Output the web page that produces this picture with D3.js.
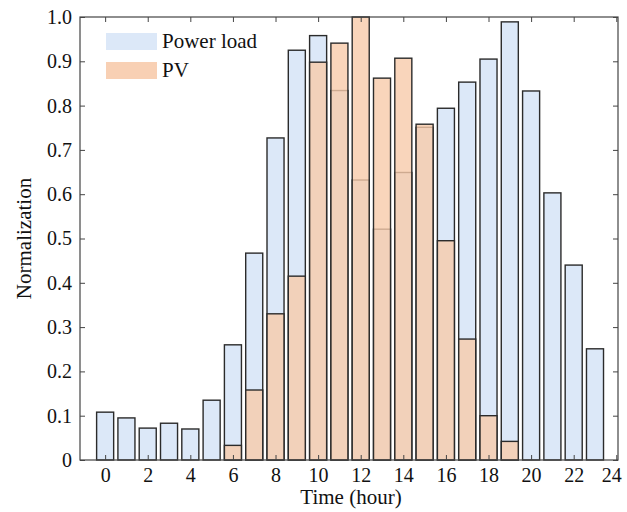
<!DOCTYPE html>
<html>
<head>
<meta charset="utf-8">
<script src="https://cdn.jsdelivr.net/npm/d3@7"></script>
<style>
  body { margin: 0; background: #fff; }
  svg text { font-family: "Liberation Serif", "Times New Roman", serif; }
</style>
</head>
<body>
<div id="chart"></div>
<script>
// hours 0..23
const hours = d3.range(0, 24)
const powerLoad = [0.108, 0.095, 0.072, 0.083, 0.070, 0.135, 0.260, 0.467, 0.727, 0.925,
    0.958, 0.834, 0.632, 0.521, 0.649, 0.751, 0.794, 0.853, 0.905, 0.989,
    0.833, 0.603, 0.440, 0.251]
const pv = [0, 0, 0, 0, 0, 0, 0.033, 0.158, 0.330, 0.415,
    0.898, 0.941, 1.0, 0.862, 0.907, 0.758, 0.495, 0.273, 0.100, 0.042,
    0, 0, 0, 0]
const xTicks = d3.range(0, 25, 2)
const yTicks = d3.range(0, 11).map((d) => d / 10)

const width = 627
const height = 512
const margin = { top: 17, right: 9, bottom: 52, left: 80 }
const serif = '"Liberation Serif", "Times New Roman", serif'

const svg = d3.select('#chart')
    .append('svg')
    .attr('width', width)
    .attr('height', height)

// x scale (hour centers), left edge sits a bit before 0
const x = d3.scaleLinear()
    .domain([-1.18, 24.08])
    .range([margin.left, width - margin.right])

const y = d3.scaleLinear()
    .domain([0, 1])
    .range([height - margin.bottom, margin.top])

const barW = (x(1) - x(0)) * 0.8

// power load bars
svg.append('g')
    .selectAll('rect')
    .data(hours)
    .join('rect')
    .attr('x', (d) => x(d) - barW / 2)
    .attr('y', (d) => y(powerLoad[d]))
    .attr('width', barW)
    .attr('height', (d) => y(0) - y(powerLoad[d]))
    .attr('fill', 'rgb(220,232,248)')
    .attr('stroke', '#2b2b2b')
    .attr('stroke-width', 1.4)

// pv bars, semi transparent on top
svg.append('g')
    .selectAll('rect')
    .data(hours.filter((d) => pv[d] > 0))
    .join('rect')
    .attr('x', (d) => x(d) - barW / 2)
    .attr('y', (d) => y(pv[d]))
    .attr('width', barW)
    .attr('height', (d) => y(0) - y(pv[d]))
    .attr('fill', 'rgb(247,202,170)')
    .attr('fill-opacity', 0.8)
    .attr('stroke', '#2b2b2b')
    .attr('stroke-width', 1.4)

// frame
svg.append('rect')
    .attr('x', margin.left)
    .attr('y', margin.top)
    .attr('width', width - margin.left - margin.right)
    .attr('height', height - margin.top - margin.bottom)
    .attr('fill', 'none')
    .attr('stroke', '#444')
    .attr('stroke-width', 1.2)

const fontSize = '20px'

// d3 axis puts sans-serif on the group, force the serif font on labels
function styleAxis(g) {
    g.attr('font-family', serif)
    g.select('.domain').remove()
    g.selectAll('line').attr('stroke', '#444')
    g.selectAll('text')
        .style('font-family', serif)
        .style('font-size', fontSize)
        .attr('fill', '#111')
}

// bottom axis, ticks inward
svg.append('g')
    .attr('transform', `translate(0,${y(0)})`)
    .call(d3.axisBottom(x).tickValues(xTicks).tickFormat(d3.format('d'))
        .tickSizeInner(-5).tickSizeOuter(0).tickPadding(8))
    .call(styleAxis)
    // last label sits a little left so it stays inside the page
    .call((g) => g.selectAll('text').filter((d) => d === 24).attr('dx', '-5'))

// top axis ticks
svg.append('g')
    .attr('transform', `translate(0,${y(1)})`)
    .call(d3.axisTop(x).tickValues(xTicks).tickFormat('').tickSizeInner(-5).tickSizeOuter(0))
    .call(styleAxis)

// left axis
svg.append('g')
    .attr('transform', `translate(${margin.left},0)`)
    .call(d3.axisLeft(y).tickValues(yTicks)
        .tickFormat((d) => (d === 0 ? '0' : d3.format('.1f')(d)))
        .tickSizeInner(-5).tickSizeOuter(0).tickPadding(8))
    .call(styleAxis)

// right axis ticks
svg.append('g')
    .attr('transform', `translate(${width - margin.right},0)`)
    .call(d3.axisRight(y).tickValues(yTicks).tickFormat('').tickSizeInner(-5).tickSizeOuter(0))
    .call(styleAxis)

// axis titles
svg.append('text')
    .attr('x', 351)
    .attr('y', height - 8)
    .attr('text-anchor', 'middle')
    .style('font-family', serif)
    .style('font-size', '21px')
    .attr('fill', '#111')
    .text('Time (hour)')

svg.append('text')
    .attr('transform', `translate(31,${(margin.top + height - margin.bottom) / 2}) rotate(-90)`)
    .attr('text-anchor', 'middle')
    .style('font-family', serif)
    .style('font-size', '21px')
    .attr('fill', '#111')
    .text('Normalization')

// legend
const legend = svg.append('g').attr('transform', 'translate(106,33)')
const items = [
    { label: 'Power load', color: 'rgb(220,232,248)' },
    { label: 'PV', color: 'rgb(248,208,180)' },
]
items.forEach((it, i) => {
    legend.append('rect')
        .attr('x', 0)
        .attr('y', i * 29)
        .attr('width', 51)
        .attr('height', 17)
        .attr('fill', it.color)
    legend.append('text')
        .attr('x', 56)
        .attr('y', i * 29 + 15)
        .style('font-family', serif)
        .style('font-size', '21px')
        .attr('fill', '#111')
        .text(it.label)
})
</script>
</body>
</html>
